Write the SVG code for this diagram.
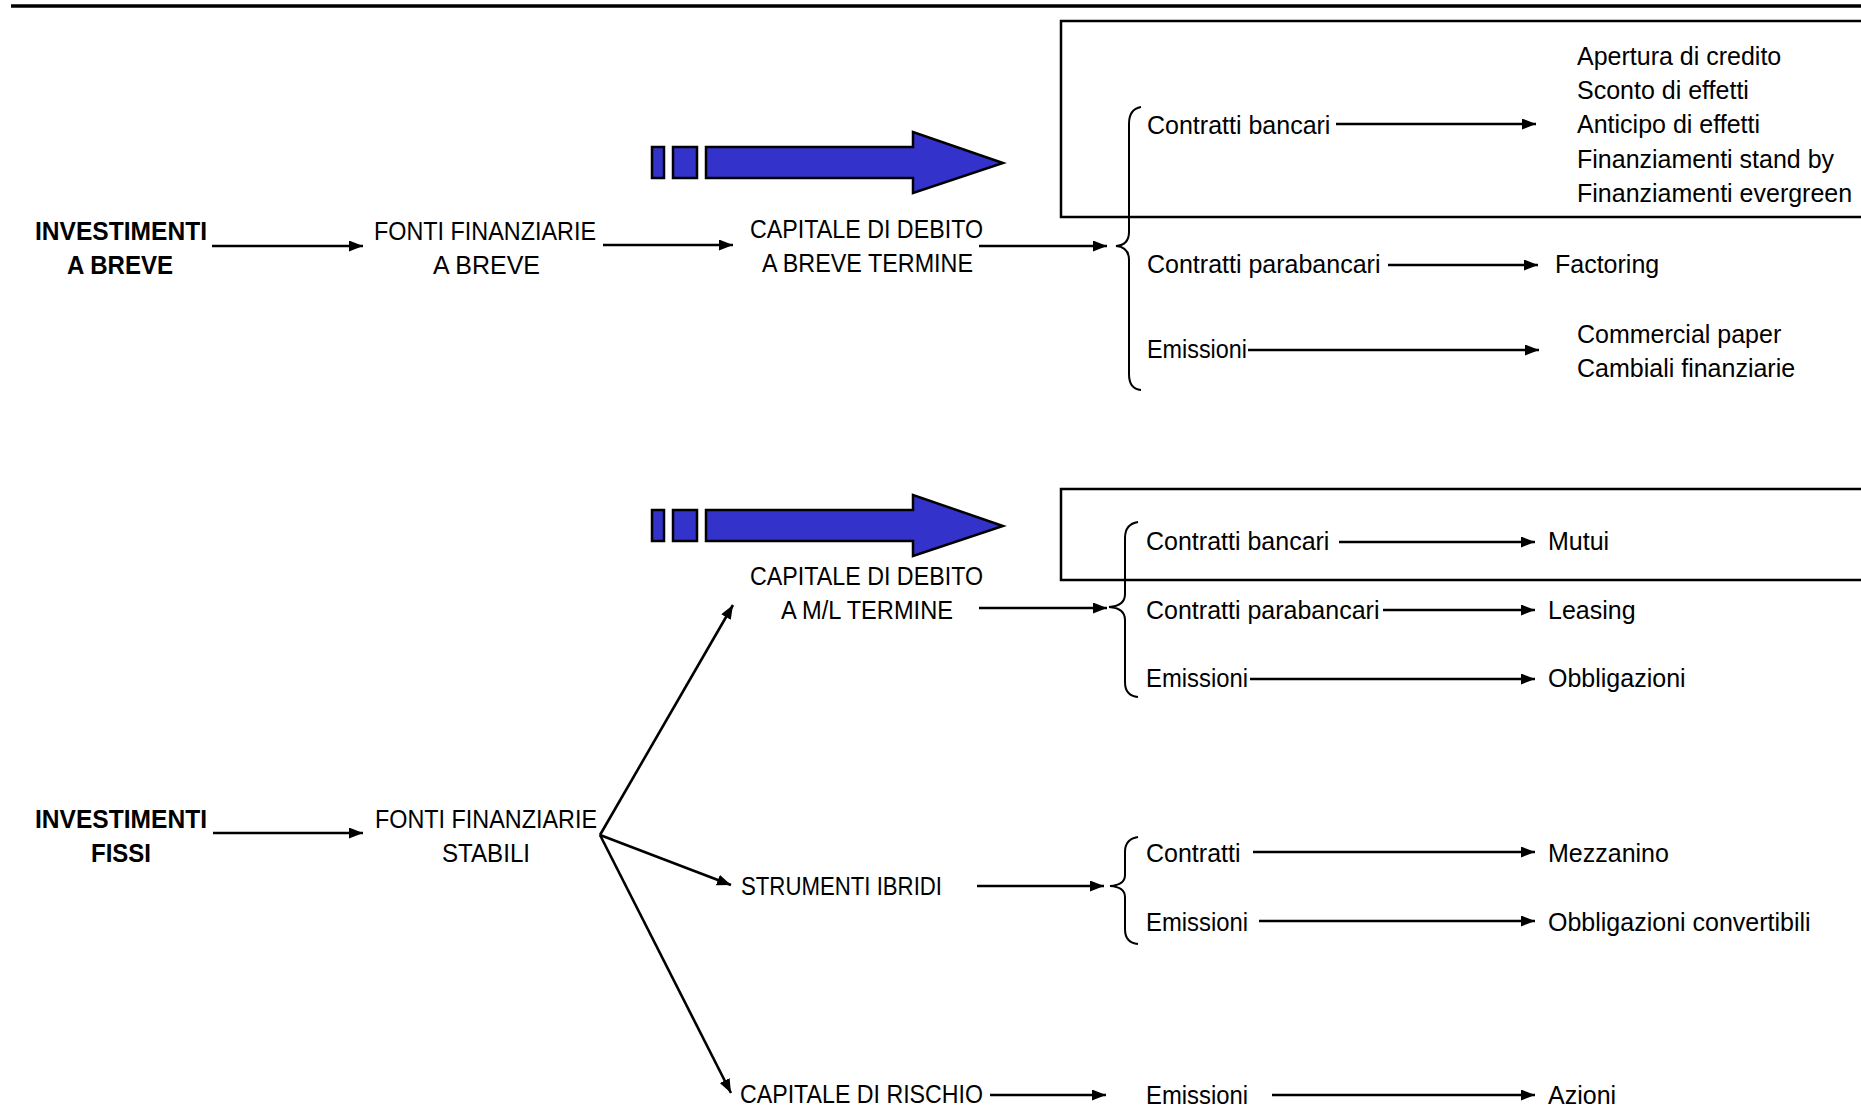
<svg xmlns="http://www.w3.org/2000/svg" width="1861" height="1111" viewBox="0 0 1861 1111">
<defs>
<style>
text{font-family:"Liberation Sans",Arial,sans-serif;font-size:25px;fill:#000}
.b{font-weight:bold}
.ln{stroke:#000;stroke-width:2.5;fill:none}
.ar{stroke:#000;stroke-width:2.6;fill:none;marker-end:url(#ah)}
.br{stroke:#000;stroke-width:2;fill:none}
.box{stroke:#000;stroke-width:2.5;fill:none}
.blue{fill:#3333CC;stroke:#000;stroke-width:2.5}
</style>
<marker id="ah" markerUnits="userSpaceOnUse" markerWidth="15" markerHeight="12" refX="14" refY="5.5" orient="auto">
<path d="M0,0 L14,5.5 L0,11 z" fill="#000"/>
</marker>
</defs>
<rect width="1861" height="1111" fill="#fff"/>
<line x1="11" y1="6" x2="1861" y2="6" stroke="#000" stroke-width="3.5"/>

<g id="box-top"><rect class="box" x="1061" y="21" width="900" height="196"/></g>
<g id="box-mid"><rect class="box" x="1061" y="489" width="900" height="91"/></g>

<g id="blue-arrow-1">
<rect class="blue" x="652" y="147" width="12" height="31"/>
<rect class="blue" x="673" y="147" width="24" height="31"/>
<polygon class="blue" points="706,147 913,147 913,132 1003,163 913,193 913,178 706,178"/>
</g>
<g id="blue-arrow-2">
<rect class="blue" x="652" y="510" width="12" height="31"/>
<rect class="blue" x="673" y="510" width="24" height="31"/>
<polygon class="blue" points="706,510 913,510 913,495 1003,526 913,556 913,541 706,541"/>
</g>

<g id="n-inv-breve">
<text class="b" x="35" y="240" textLength="172" lengthAdjust="spacingAndGlyphs">INVESTIMENTI</text>
<text class="b" x="67" y="274" textLength="106" lengthAdjust="spacingAndGlyphs">A BREVE</text>
</g>
<g id="n-fonti-breve">
<text x="374" y="240" textLength="222" lengthAdjust="spacingAndGlyphs">FONTI FINANZIARIE</text>
<text x="433" y="274" textLength="107" lengthAdjust="spacingAndGlyphs">A BREVE</text>
</g>
<g id="n-cap-breve">
<text x="750" y="238" textLength="233" lengthAdjust="spacingAndGlyphs">CAPITALE DI DEBITO</text>
<text x="762" y="272" textLength="211" lengthAdjust="spacingAndGlyphs">A BREVE TERMINE</text>
</g>
<g id="n-r1-cb"><text x="1147" y="134">Contratti bancari</text></g>
<g id="n-r1-list">
<text x="1577" y="65">Apertura di credito</text>
<text x="1577" y="99">Sconto di effetti</text>
<text x="1577" y="133">Anticipo di effetti</text>
<text x="1577" y="168">Finanziamenti stand by</text>
<text x="1577" y="202">Finanziamenti evergreen</text>
</g>
<g id="n-r1-cp"><text x="1147" y="273">Contratti parabancari</text></g>
<g id="n-r1-fact"><text x="1555" y="273">Factoring</text></g>
<g id="n-r1-em"><text x="1147" y="358" textLength="100" lengthAdjust="spacingAndGlyphs">Emissioni</text></g>
<g id="n-r1-cpap">
<text x="1577" y="343">Commercial paper</text>
<text x="1577" y="377">Cambiali finanziarie</text>
</g>

<g id="n-cap-ml">
<text x="750" y="585" textLength="233" lengthAdjust="spacingAndGlyphs">CAPITALE DI DEBITO</text>
<text x="781" y="619" textLength="172" lengthAdjust="spacingAndGlyphs">A M/L TERMINE</text>
</g>
<g id="n-r2-cb"><text x="1146" y="550">Contratti bancari</text></g>
<g id="n-r2-mutui"><text x="1548" y="550">Mutui</text></g>
<g id="n-r2-cp"><text x="1146" y="619">Contratti parabancari</text></g>
<g id="n-r2-leasing"><text x="1548" y="619">Leasing</text></g>
<g id="n-r2-em"><text x="1146" y="687" textLength="102" lengthAdjust="spacingAndGlyphs">Emissioni</text></g>
<g id="n-r2-obb"><text x="1548" y="687">Obbligazioni</text></g>

<g id="n-inv-fissi">
<text class="b" x="35" y="828" textLength="172" lengthAdjust="spacingAndGlyphs">INVESTIMENTI</text>
<text class="b" x="91" y="862" textLength="60" lengthAdjust="spacingAndGlyphs">FISSI</text>
</g>
<g id="n-fonti-stabili">
<text x="375" y="828" textLength="222" lengthAdjust="spacingAndGlyphs">FONTI FINANZIARIE</text>
<text x="442" y="862" textLength="88" lengthAdjust="spacingAndGlyphs">STABILI</text>
</g>
<g id="n-ibridi"><text x="741" y="895" textLength="201" lengthAdjust="spacingAndGlyphs">STRUMENTI IBRIDI</text></g>
<g id="n-r3-contr"><text x="1146" y="862">Contratti</text></g>
<g id="n-r3-mezz"><text x="1548" y="862">Mezzanino</text></g>
<g id="n-r3-em"><text x="1146" y="931" textLength="102" lengthAdjust="spacingAndGlyphs">Emissioni</text></g>
<g id="n-r3-obbc"><text x="1548" y="931">Obbligazioni convertibili</text></g>

<g id="n-rischio"><text x="740" y="1103" textLength="243" lengthAdjust="spacingAndGlyphs">CAPITALE DI RISCHIO</text></g>
<g id="n-r4-em"><text x="1146" y="1104" textLength="102" lengthAdjust="spacingAndGlyphs">Emissioni</text></g>
<g id="n-r4-az"><text x="1548" y="1104">Azioni</text></g>

<g id="braces">
<path class="br" d="M1141,107 Q1129,109 1129,124 L1129,232 Q1129,245 1116,246 Q1129,247 1129,260 L1129,374 Q1129,389 1141,390"/>
<path class="br" d="M1138,522 Q1125,524 1125,538 L1125,594 Q1125,606 1109,607 Q1125,608 1125,620 L1125,682 Q1125,696 1138,697"/>
<path class="br" d="M1138,837 Q1125,839 1125,852 L1125,875 Q1125,885 1110,886 Q1125,887 1125,897 L1125,929 Q1125,943 1138,944"/>
</g>

<g id="connectors">
<line class="ar" x1="212" y1="246" x2="363" y2="246"/>
<line class="ar" x1="603" y1="245" x2="733" y2="245"/>
<line class="ar" x1="979" y1="246" x2="1107" y2="246"/>
<line class="ar" x1="1336" y1="124" x2="1536" y2="124"/>
<line class="ar" x1="1388" y1="265" x2="1538" y2="265"/>
<line class="ar" x1="1248" y1="350" x2="1539" y2="350"/>

<line class="ar" x1="979" y1="608" x2="1107" y2="608"/>
<line class="ar" x1="1339" y1="542" x2="1535" y2="542"/>
<line class="ar" x1="1383" y1="610" x2="1535" y2="610"/>
<line class="ar" x1="1250" y1="679" x2="1535" y2="679"/>

<line class="ar" x1="213" y1="833" x2="363" y2="833"/>
<line class="ar" x1="600" y1="835" x2="733" y2="605"/>
<line class="ar" x1="600" y1="835" x2="731" y2="885"/>
<line class="ar" x1="600" y1="835" x2="731" y2="1093"/>

<line class="ar" x1="977" y1="886" x2="1104" y2="886"/>
<line class="ar" x1="1253" y1="852" x2="1535" y2="852"/>
<line class="ar" x1="1259" y1="921" x2="1535" y2="921"/>

<line class="ar" x1="990" y1="1095" x2="1106" y2="1095"/>
<line class="ar" x1="1272" y1="1095" x2="1535" y2="1095"/>
</g>
</svg>
